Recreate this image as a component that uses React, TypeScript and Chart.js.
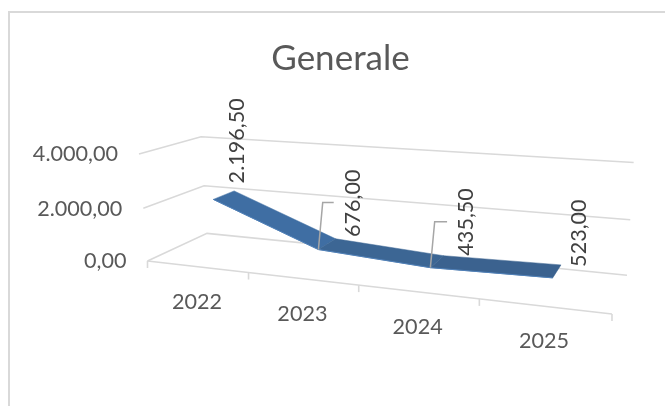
import React, { useEffect, useRef } from "react";
import { Chart, registerables } from "chart.js";

Chart.register(...registerables);

const categories = ["2022", "2023", "2024", "2025"];
const values = [2196.5, 676, 435.5, 523];
const valueLabels = ["2.196,50", "676,00", "435,50", "523,00"];
const yTicks = [0, 2000, 4000];
const yTickLabels = ["0,00", "2.000,00", "4.000,00"];

const FONT = "Lato";
const FONT_SIZE = 21.6;
const GRID = "#d9d9d9";
const TEXT = "#595959";
const FRONT_DEPTH = 0.33;
const BACK_DEPTH = 0.7;
const SEGMENT_COLORS = ["#3f6ea3", "#3c6694", "#3b628f"];
const LABEL_OFFSETS = [
  [23.5, -16],
  [34.7, -12.5],
  [36, -12],
  [26.4, -11],
];
const LEADERS: Record<number, number[][]> = {
  1: [[4.3, -47], [15.3, -47]],
  2: [[4.3, -46], [16.7, -46]],
};

// Perspective camera: (u along categories, v up the value axis, d into the depth), all 0..1.
function project(u: number, v: number, d: number) {
  const w = 1 - 0.166 * u - 0.03 * v + 0.112 * d;
  return {
    x: (147.5 + 362.9 * u - 12.67 * v + 82.7 * d) / w,
    y: (261 + 0.9 * u - 111.6 * v - 1.5 * d) / w,
  };
}

function toUnit(chart: any, xPx: number, yPx: number) {
  const a = chart.chartArea;
  return {
    u: (xPx - a.left) / (a.right - a.left),
    v: (a.bottom - yPx) / (a.bottom - a.top),
  };
}

function seg(ctx: CanvasRenderingContext2D, pts: { x: number; y: number }[]) {
  ctx.beginPath();
  pts.forEach((p, i) => (i ? ctx.lineTo(p.x, p.y) : ctx.moveTo(p.x, p.y)));
  ctx.stroke();
}

function ribbonPoints(chart: any, depth: number) {
  return values.map((val, i) => {
    const { u, v } = toUnit(
      chart,
      chart.scales.x.getPixelForValue(i),
      chart.scales.y.getPixelForValue(val)
    );
    return project(u, v, depth);
  });
}

const perspective = {
  id: "perspective",
  afterDatasetsUpdate(chart: any) {
    const pts = ribbonPoints(chart, FRONT_DEPTH);
    chart.getDatasetMeta(0).data.forEach((el: any, i: number) => {
      el.x = pts[i].x;
      el.y = pts[i].y;
    });
  },
  beforeDatasetsDraw(chart: any) {
    const ctx: CanvasRenderingContext2D = chart.ctx;
    const yScale = chart.scales.y;
    const xScale = chart.scales.x;
    ctx.save();
    // Frame
    ctx.strokeStyle = GRID;
    ctx.lineWidth = 2;
    seg(ctx, [{ x: 9, y: 406 }, { x: 9, y: 12 }, { x: 665, y: 12 }]);

    // Walls
    ctx.lineWidth = 1.6;
    yTicks.forEach((t, i) => {
      const { v } = toUnit(chart, 0, yScale.getPixelForValue(t));
      const front = project(0, v, 0);
      seg(ctx, [front, project(0, v, 1), project(1, v, 1)]);
      ctx.fillStyle = TEXT;
      ctx.font = `${FONT_SIZE}px ${FONT}`;
      ctx.textAlign = "right";
      ctx.textBaseline = "middle";
      ctx.fillText(yTickLabels[i], front.x - 21, front.y + 0.5);
    });

    // Floor front edge, ticks and category labels
    seg(ctx, [project(0, 0, 0), project(1, 0, 0)]);
    const n = categories.length;
    const step = (xScale.right - xScale.left) / n;
    for (let i = 0; i <= n; i++) {
      const { u } = toUnit(chart, xScale.left + i * step, 0);
      const p = project(u, 0, 0);
      seg(ctx, [p, { x: p.x, y: p.y + 7 }]);
    }
    categories.forEach((c, i) => {
      const { u } = toUnit(chart, xScale.getPixelForValue(i), 0);
      const p = project(u, 0, 0);
      ctx.fillStyle = TEXT;
      ctx.font = `${FONT_SIZE}px ${FONT}`;
      ctx.textAlign = "center";
      ctx.textBaseline = "middle";
      ctx.fillText(c, p.x, p.y + 35);
    });

    // Ribbon surface
    const front = ribbonPoints(chart, FRONT_DEPTH);
    const back = ribbonPoints(chart, BACK_DEPTH);
    for (let i = 0; i < values.length - 1; i++) {
      ctx.fillStyle = SEGMENT_COLORS[i];
      ctx.strokeStyle = SEGMENT_COLORS[i];
      ctx.lineWidth = 0.5;
      ctx.beginPath();
      ctx.moveTo(front[i].x, front[i].y);
      ctx.lineTo(front[i + 1].x, front[i + 1].y);
      ctx.lineTo(back[i + 1].x, back[i + 1].y);
      ctx.lineTo(back[i].x, back[i].y);
      ctx.closePath();
      ctx.fill();
      ctx.stroke();
    }
    ctx.restore();
  },
  afterDatasetsDraw(chart: any) {
    const ctx: CanvasRenderingContext2D = chart.ctx;
    const front = ribbonPoints(chart, FRONT_DEPTH);
    ctx.save();
    Object.keys(LEADERS).forEach((k) => {
      const i = Number(k);
      const p = front[i];
      ctx.strokeStyle = "#a6a6a6";
      ctx.lineWidth = 1.5;
      seg(ctx, [p, ...LEADERS[i].map(([dx, dy]) => ({ x: p.x + dx, y: p.y + dy }))]);
    });
    valueLabels.forEach((label, i) => {
      const p = front[i];
      ctx.save();
      ctx.translate(p.x + LABEL_OFFSETS[i][0], p.y + LABEL_OFFSETS[i][1]);
      ctx.rotate(-Math.PI / 2);
      ctx.fillStyle = "#404040";
      ctx.font = `${FONT_SIZE}px ${FONT}`;
      ctx.textAlign = "left";
      ctx.textBaseline = "middle";
      ctx.fillText(label, 0, 0);
      ctx.restore();
    });
    ctx.restore();
  },
};

export default function App() {
  const ref = useRef<HTMLCanvasElement>(null);
  useEffect(() => {
    const chart = new Chart(ref.current!, {
      type: "line",
      data: {
        labels: categories,
        datasets: [
          {
            label: "Generale",
            data: values,
            borderColor: "#4f80b8",
            borderWidth: 1,
            pointRadius: 0,
            tension: 0,
            fill: false,
            clip: false,
          } as any,
        ],
      },
      options: {
        animation: false,
        responsive: false,
        layout: { padding: { left: 16, top: 0, right: 0, bottom: 0 } },
        scales: {
          x: { type: "category", offset: true, display: false },
          y: { type: "linear", min: 0, max: 4000, display: false, ticks: { stepSize: 2000 } },
        },
        plugins: {
          legend: { display: false },
          tooltip: { enabled: false },
          title: {
            display: true,
            text: "Generale",
            color: TEXT,
            font: { family: FONT, size: 35, weight: "normal" },
            padding: { top: 38, bottom: 10 },
          },
        },
      },
      plugins: [perspective],
    });
    return () => chart.destroy();
  }, []);
  return (
    <div style={{ position: "fixed", left: 0, top: 0, width: 665, height: 406, background: "#fff" }}>
      <canvas ref={ref} width={665} height={406} style={{ display: "block" }} />
    </div>
  );
}
